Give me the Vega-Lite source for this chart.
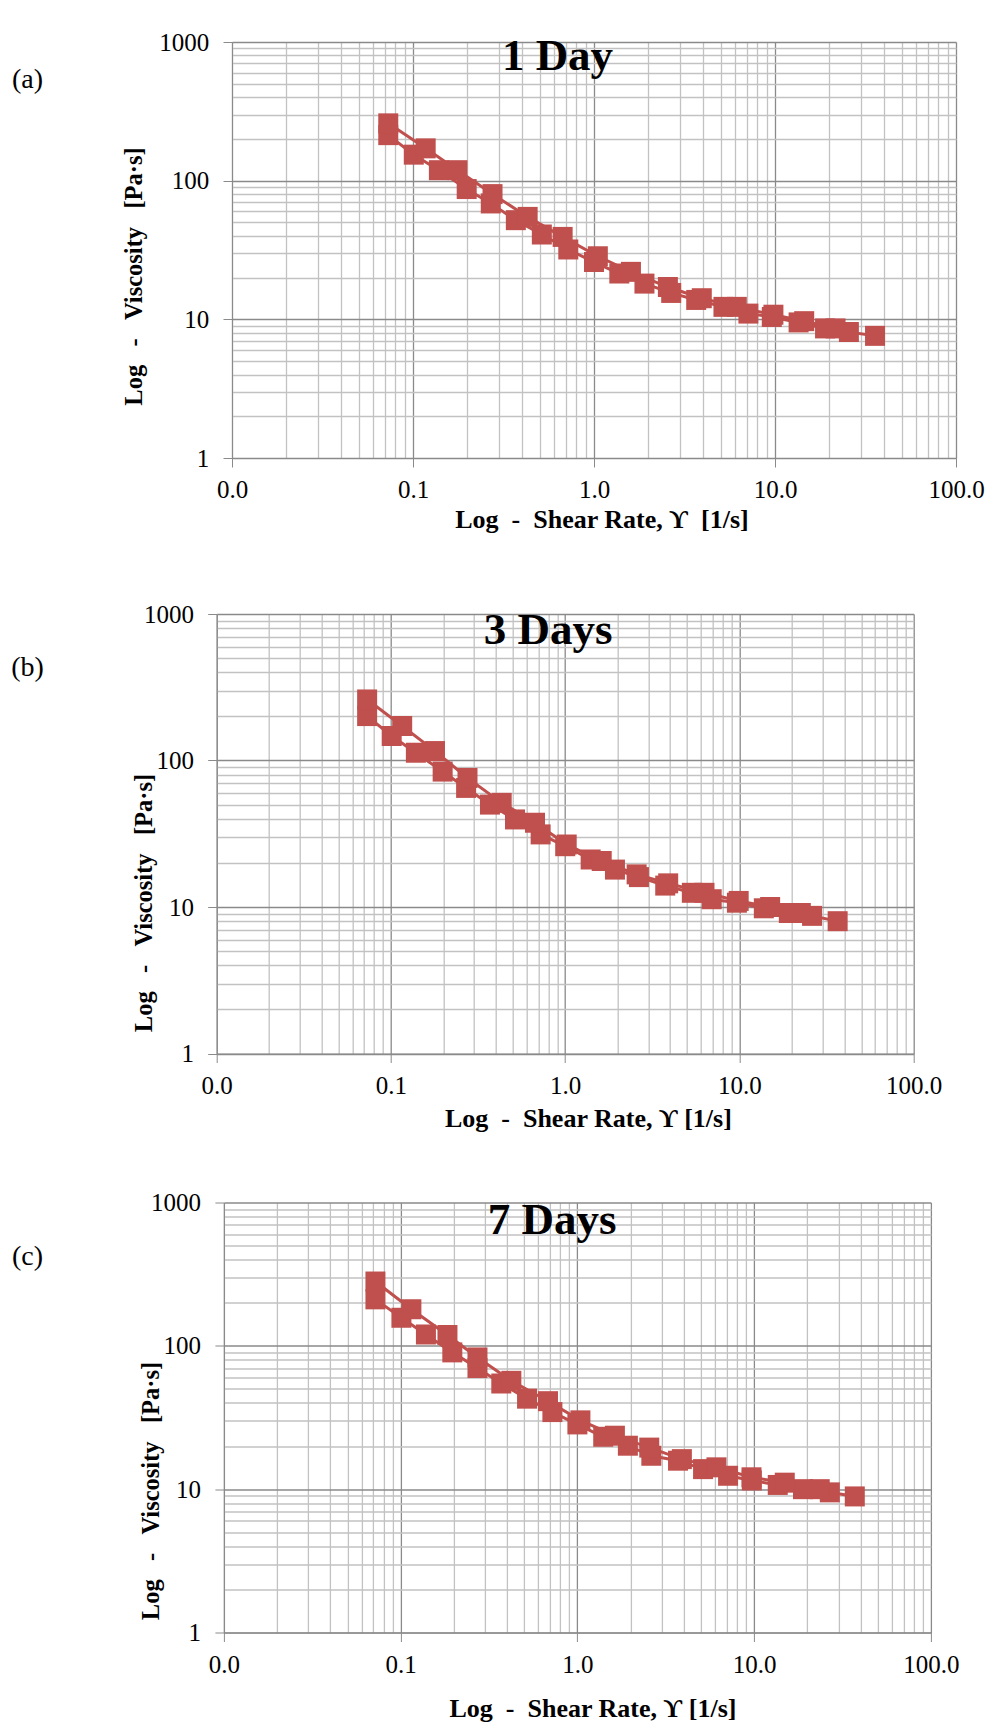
{
  "$schema": "https://vega.github.io/schema/vega-lite/v6.json",
  "background": "white",
  "padding": {"left": 0, "top": 30, "right": 0, "bottom": 0},
  "config": {
    "view": {"stroke": null},
    "font": "Liberation Serif",
    "text": {"font": "Liberation Serif", "fontSize": 28, "color": "black"},
    "axis": {
      "labelFont": "Liberation Serif",
      "labelFontSize": 25,
      "labelColor": "black",
      "labelOverlap": false,
      "labelFlush": false,
      "titleFont": "Liberation Serif",
      "titleFontWeight": "bold",
      "titleColor": "black",
      "titleBaseline": "alphabetic",
      "titleAlign": "center",
      "tickSize": 9,
      "tickColor": "#8a8a8a",
      "domainColor": "#8a8a8a",
      "grid": true,
      "gridWidth": 1.3
    },
    "axisX": {"labelPadding": 10.5, "titleFontSize": 26},
    "axisY": {"labelPadding": 14.3, "titleFontSize": 24.5}
  },
  "datasets": {
    "day1": [
      {"series": "A", "rate": 0.073, "viscosity": 213},
      {"series": "A", "rate": 0.101, "viscosity": 154},
      {"series": "A", "rate": 0.139, "viscosity": 119},
      {"series": "A", "rate": 0.198, "viscosity": 87},
      {"series": "A", "rate": 0.269, "viscosity": 68.5},
      {"series": "A", "rate": 0.37, "viscosity": 51.9},
      {"series": "A", "rate": 0.515, "viscosity": 40.9},
      {"series": "A", "rate": 0.721, "viscosity": 31.9},
      {"series": "A", "rate": 1.0, "viscosity": 25.9},
      {"series": "A", "rate": 1.38, "viscosity": 21.4},
      {"series": "A", "rate": 1.9, "viscosity": 18.1},
      {"series": "A", "rate": 2.67, "viscosity": 15.5},
      {"series": "A", "rate": 3.67, "viscosity": 13.8},
      {"series": "A", "rate": 5.19, "viscosity": 12.3},
      {"series": "A", "rate": 7.13, "viscosity": 11.0},
      {"series": "A", "rate": 9.6, "viscosity": 10.4},
      {"series": "A", "rate": 13.5, "viscosity": 9.5},
      {"series": "A", "rate": 18.9, "viscosity": 8.6},
      {"series": "A", "rate": 25.6, "viscosity": 8.1},
      {"series": "A", "rate": 35.7, "viscosity": 7.6},
      {"series": "B", "rate": 0.073, "viscosity": 259},
      {"series": "B", "rate": 0.1175, "viscosity": 171},
      {"series": "B", "rate": 0.176, "viscosity": 119},
      {"series": "B", "rate": 0.275, "viscosity": 80},
      {"series": "B", "rate": 0.43, "viscosity": 54.8},
      {"series": "B", "rate": 0.671, "viscosity": 39.3},
      {"series": "B", "rate": 1.05, "viscosity": 28.5},
      {"series": "B", "rate": 1.6, "viscosity": 22.0},
      {"series": "B", "rate": 2.56, "viscosity": 17.1},
      {"series": "B", "rate": 3.94, "viscosity": 14.2},
      {"series": "B", "rate": 6.15, "viscosity": 12.3},
      {"series": "B", "rate": 9.8, "viscosity": 10.8},
      {"series": "B", "rate": 14.5, "viscosity": 9.7},
      {"series": "B", "rate": 21.6, "viscosity": 8.6}
    ],
    "day3": [
      {"series": "A", "rate": 0.073, "viscosity": 201},
      {"series": "A", "rate": 0.101, "viscosity": 147},
      {"series": "A", "rate": 0.139, "viscosity": 113},
      {"series": "A", "rate": 0.198, "viscosity": 84},
      {"series": "A", "rate": 0.27, "viscosity": 65},
      {"series": "A", "rate": 0.37, "viscosity": 50},
      {"series": "A", "rate": 0.515, "viscosity": 39.6},
      {"series": "A", "rate": 0.723, "viscosity": 31.3},
      {"series": "A", "rate": 1.0, "viscosity": 26.0},
      {"series": "A", "rate": 1.4, "viscosity": 21.1},
      {"series": "A", "rate": 1.93, "viscosity": 18.0},
      {"series": "A", "rate": 2.65, "viscosity": 16.0},
      {"series": "A", "rate": 3.75, "viscosity": 14.0},
      {"series": "A", "rate": 5.33, "viscosity": 12.5},
      {"series": "A", "rate": 6.93, "viscosity": 11.3},
      {"series": "A", "rate": 9.67, "viscosity": 10.7},
      {"series": "A", "rate": 13.8, "viscosity": 9.8},
      {"series": "A", "rate": 19.2, "viscosity": 9.1},
      {"series": "A", "rate": 26.1, "viscosity": 8.7},
      {"series": "A", "rate": 36.6, "viscosity": 8.0},
      {"series": "B", "rate": 0.073, "viscosity": 261},
      {"series": "B", "rate": 0.116, "viscosity": 172},
      {"series": "B", "rate": 0.179, "viscosity": 116},
      {"series": "B", "rate": 0.275, "viscosity": 76},
      {"series": "B", "rate": 0.432, "viscosity": 51.4},
      {"series": "B", "rate": 0.671, "viscosity": 37.6},
      {"series": "B", "rate": 1.02, "viscosity": 26.7},
      {"series": "B", "rate": 1.62, "viscosity": 20.6},
      {"series": "B", "rate": 2.57, "viscosity": 16.7},
      {"series": "B", "rate": 3.9, "viscosity": 14.5},
      {"series": "B", "rate": 6.3, "viscosity": 12.5},
      {"series": "B", "rate": 9.9, "viscosity": 11.0},
      {"series": "B", "rate": 15.0, "viscosity": 10.0},
      {"series": "B", "rate": 22.5, "viscosity": 9.1}
    ],
    "day7": [
      {"series": "A", "rate": 0.072, "viscosity": 211},
      {"series": "A", "rate": 0.101, "viscosity": 157},
      {"series": "A", "rate": 0.139, "viscosity": 120},
      {"series": "A", "rate": 0.196, "viscosity": 90},
      {"series": "A", "rate": 0.272, "viscosity": 70},
      {"series": "A", "rate": 0.371, "viscosity": 54.6},
      {"series": "A", "rate": 0.519, "viscosity": 42.8},
      {"series": "A", "rate": 0.722, "viscosity": 34.5},
      {"series": "A", "rate": 1.0, "viscosity": 28.3},
      {"series": "A", "rate": 1.4, "viscosity": 23.2},
      {"series": "A", "rate": 1.93, "viscosity": 20.1},
      {"series": "A", "rate": 2.62, "viscosity": 17.1},
      {"series": "A", "rate": 3.71, "viscosity": 15.8},
      {"series": "A", "rate": 5.14, "viscosity": 13.8},
      {"series": "A", "rate": 7.12, "viscosity": 12.4},
      {"series": "A", "rate": 9.7, "viscosity": 11.5},
      {"series": "A", "rate": 13.6, "viscosity": 10.7},
      {"series": "A", "rate": 18.9, "viscosity": 10.0},
      {"series": "A", "rate": 26.8, "viscosity": 9.5},
      {"series": "A", "rate": 37.1, "viscosity": 8.9},
      {"series": "B", "rate": 0.072, "viscosity": 281},
      {"series": "B", "rate": 0.115, "viscosity": 180},
      {"series": "B", "rate": 0.184, "viscosity": 119},
      {"series": "B", "rate": 0.272, "viscosity": 83},
      {"series": "B", "rate": 0.423, "viscosity": 57},
      {"series": "B", "rate": 0.682, "viscosity": 41.1},
      {"series": "B", "rate": 1.04, "viscosity": 30.2},
      {"series": "B", "rate": 1.63, "viscosity": 23.6},
      {"series": "B", "rate": 2.55, "viscosity": 19.5},
      {"series": "B", "rate": 3.9, "viscosity": 16.2},
      {"series": "B", "rate": 6.12, "viscosity": 14.2},
      {"series": "B", "rate": 9.66, "viscosity": 12.1},
      {"series": "B", "rate": 14.9, "viscosity": 11.1},
      {"series": "B", "rate": 23.5, "viscosity": 10.0}
    ]
  },
  "vconcat": [
    {
      "hconcat": [
        {
          "width": 55,
          "height": 75.2,
          "data": {"values": [{"label": "(a)"}]},
          "mark": {"type": "text"},
          "encoding": {"text": {"field": "label", "type": "nominal"}}
        },
        {
          "width": 724,
          "height": 416,
          "data": {"name": "day1"},
          "title": {"text": "1 Day", "anchor": "middle", "frame": "group", "baseline": "top", "offset": 0, "dx": -36.5, "dy": 49.3, "fontSize": 45, "fontWeight": "bold", "font": "Liberation Serif", "color": "black"},
          "encoding": {
            "x": {
              "field": "rate", "type": "quantitative",
              "scale": {"type": "log", "domain": [0.01, 100], "nice": false},
              "axis": {
                "values": [0.01,0.02,0.03,0.04,0.05,0.06,0.07,0.08,0.09,0.1,0.2,0.3,0.4,0.5,0.6,0.7,0.8,0.9,1,2,3,4,5,6,7,8,9,10,20,30,40,50,60,70,80,90,100],
                "format": ".1f",
                "labelExpr": "indexof([0.01,0.1,1,10,100], datum.value) >= 0 ? datum.label : ''",
                "tickOpacity": {"condition": {"test": "indexof([0.01,0.1,1,10,100], datum.value) >= 0", "value": 1}, "value": 0},
                "gridColor": {"condition": {"test": "indexof([0.01,0.1,1,10,100], datum.value) >= 0", "value": "#8a8a8a"}, "value": "#c2c2c2"},
                "title": "Log\u00a0\u00a0-\u00a0\u00a0Shear Rate, ϒ\u00a0\u00a0[1/s]",
                "titleX": 369.5,
                "titleY": 69.3
              }
            },
            "y": {
              "field": "viscosity", "type": "quantitative",
              "scale": {"type": "log", "domain": [1, 1000], "nice": false},
              "axis": {
                "values": [1,2,3,4,5,6,7,8,9,10,20,30,40,50,60,70,80,90,100,200,300,400,500,600,700,800,900,1000],
                "format": "d",
                "labelExpr": "indexof([1,10,100,1000], datum.value) >= 0 ? datum.label : ''",
                "tickOpacity": {"condition": {"test": "indexof([1,10,100,1000], datum.value) >= 0", "value": 1}, "value": 0},
                "gridColor": {"condition": {"test": "indexof([1,10,100,1000], datum.value) >= 0", "value": "#8a8a8a"}, "value": "#c2c2c2"},
                "title": "Log\u00a0\u00a0\u00a0-\u00a0\u00a0\u00a0Viscosity\u00a0\u00a0\u00a0[Pa·s]",
                "titleX": -90.5,
                "titleY": 234
              }
            },
            "detail": {"field": "series", "type": "nominal"}
          },
          "layer": [
            {"mark": {"type": "line", "color": "#C0504D", "strokeWidth": 3}},
            {"mark": {"type": "point", "shape": "square", "size": 400, "filled": true, "color": "#C0504D", "opacity": 1}}
          ]
        }
      ],
      "spacing": 66
    },
    {
      "vconcat": [
        {
          "hconcat": [
            {
              "width": 55,
              "height": 108.6,
              "data": {"values": [{"label": "(b)"}]},
              "mark": {"type": "text"},
              "encoding": {"text": {"field": "label", "type": "nominal"}}
            },
            {
              "width": 697,
              "height": 439.5,
              "data": {"name": "day3"},
              "title": {"text": "3 Days", "anchor": "middle", "frame": "group", "baseline": "top", "offset": 0, "dx": -17, "dy": 50.8, "fontSize": 45, "fontWeight": "bold", "font": "Liberation Serif", "color": "black"},
              "encoding": {
                "x": {
                  "field": "rate", "type": "quantitative",
                  "scale": {"type": "log", "domain": [0.01, 100], "nice": false},
                  "axis": {
                    "values": [0.01,0.02,0.03,0.04,0.05,0.06,0.07,0.08,0.09,0.1,0.2,0.3,0.4,0.5,0.6,0.7,0.8,0.9,1,2,3,4,5,6,7,8,9,10,20,30,40,50,60,70,80,90,100],
                    "format": ".1f",
                    "labelExpr": "indexof([0.01,0.1,1,10,100], datum.value) >= 0 ? datum.label : ''",
                    "tickOpacity": {"condition": {"test": "indexof([0.01,0.1,1,10,100], datum.value) >= 0", "value": 1}, "value": 0},
                    "gridColor": {"condition": {"test": "indexof([0.01,0.1,1,10,100], datum.value) >= 0", "value": "#8a8a8a"}, "value": "#c2c2c2"},
                    "title": "Log\u00a0\u00a0-\u00a0\u00a0Shear Rate, ϒ [1/s]",
                    "titleX": 371.2,
                    "titleY": 72.5
                  }
                },
                "y": {
                  "field": "viscosity", "type": "quantitative",
                  "scale": {"type": "log", "domain": [1, 1000], "nice": false},
                  "axis": {
                    "values": [1,2,3,4,5,6,7,8,9,10,20,30,40,50,60,70,80,90,100,200,300,400,500,600,700,800,900,1000],
                    "format": "d",
                    "labelExpr": "indexof([1,10,100,1000], datum.value) >= 0 ? datum.label : ''",
                    "tickOpacity": {"condition": {"test": "indexof([1,10,100,1000], datum.value) >= 0", "value": 1}, "value": 0},
                    "gridColor": {"condition": {"test": "indexof([1,10,100,1000], datum.value) >= 0", "value": "#8a8a8a"}, "value": "#c2c2c2"},
                    "title": "Log\u00a0\u00a0\u00a0-\u00a0\u00a0\u00a0Viscosity\u00a0\u00a0\u00a0[Pa·s]",
                    "titleX": -65,
                    "titleY": 288.5
                  }
                },
                "detail": {"field": "series", "type": "nominal"}
              },
              "layer": [
                {"mark": {"type": "line", "color": "#C0504D", "strokeWidth": 3}},
                {"mark": {"type": "point", "shape": "square", "size": 400, "filled": true, "color": "#C0504D", "opacity": 1}}
              ]
            }
          ],
          "spacing": 76.7
        },
        {
          "hconcat": [
            {
              "width": 55,
              "height": 109.4,
              "data": {"values": [{"label": "(c)"}]},
              "mark": {"type": "text"},
              "encoding": {"text": {"field": "label", "type": "nominal"}}
            },
            {
              "width": 707,
              "height": 430,
              "data": {"name": "day7"},
              "title": {"text": "7 Days", "anchor": "middle", "frame": "group", "baseline": "top", "offset": 0, "dx": -25.2, "dy": 52.6, "fontSize": 45, "fontWeight": "bold", "font": "Liberation Serif", "color": "black"},
              "encoding": {
                "x": {
                  "field": "rate", "type": "quantitative",
                  "scale": {"type": "log", "domain": [0.01, 100], "nice": false},
                  "axis": {
                    "values": [0.01,0.02,0.03,0.04,0.05,0.06,0.07,0.08,0.09,0.1,0.2,0.3,0.4,0.5,0.6,0.7,0.8,0.9,1,2,3,4,5,6,7,8,9,10,20,30,40,50,60,70,80,90,100],
                    "format": ".1f",
                    "labelExpr": "indexof([0.01,0.1,1,10,100], datum.value) >= 0 ? datum.label : ''",
                    "tickOpacity": {"condition": {"test": "indexof([0.01,0.1,1,10,100], datum.value) >= 0", "value": 1}, "value": 0},
                    "gridColor": {"condition": {"test": "indexof([0.01,0.1,1,10,100], datum.value) >= 0", "value": "#8a8a8a"}, "value": "#c2c2c2"},
                    "title": "Log\u00a0\u00a0-\u00a0\u00a0Shear Rate, ϒ [1/s]",
                    "titleX": 368.6,
                    "titleY": 83.8
                  }
                },
                "y": {
                  "field": "viscosity", "type": "quantitative",
                  "scale": {"type": "log", "domain": [1, 1000], "nice": false},
                  "axis": {
                    "values": [1,2,3,4,5,6,7,8,9,10,20,30,40,50,60,70,80,90,100,200,300,400,500,600,700,800,900,1000],
                    "format": "d",
                    "labelExpr": "indexof([1,10,100,1000], datum.value) >= 0 ? datum.label : ''",
                    "tickOpacity": {"condition": {"test": "indexof([1,10,100,1000], datum.value) >= 0", "value": 1}, "value": 0},
                    "gridColor": {"condition": {"test": "indexof([1,10,100,1000], datum.value) >= 0", "value": "#8a8a8a"}, "value": "#c2c2c2"},
                    "title": "Log\u00a0\u00a0\u00a0-\u00a0\u00a0\u00a0Viscosity\u00a0\u00a0\u00a0[Pa·s]",
                    "titleX": -65.3,
                    "titleY": 288
                  }
                },
                "detail": {"field": "series", "type": "nominal"}
              },
              "layer": [
                {"mark": {"type": "line", "color": "#C0504D", "strokeWidth": 3}},
                {"mark": {"type": "point", "shape": "square", "size": 400, "filled": true, "color": "#C0504D", "opacity": 1}}
              ]
            }
          ],
          "spacing": 82.9
        }
      ],
      "spacing": 59.5
    }
  ],
  "spacing": 69
}
